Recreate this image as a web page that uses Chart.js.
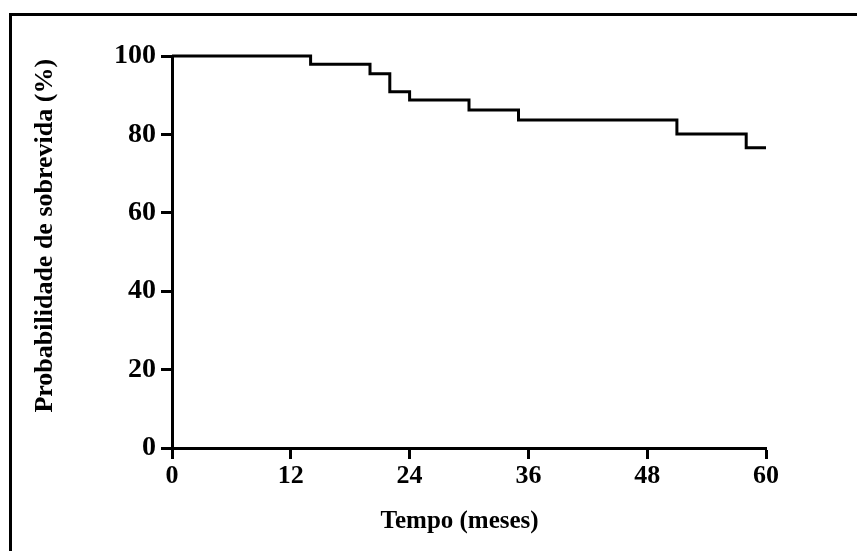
<!DOCTYPE html>
<html>
<head>
<meta charset="utf-8">
<script src="https://cdn.jsdelivr.net/npm/chart.js@4.4.1/dist/chart.umd.min.js"></script>
<style>
  html, body { margin: 0; padding: 0; background: #fff; overflow: hidden; }
  #wrap { position: relative; width: 857px; height: 551px; }
  #frame { position: absolute; left: 9px; top: 13px; width: 900px; height: 600px;
           border-top: 3px solid #000; border-left: 3px solid #000; pointer-events: none; }
</style>
</head>
<body>
<div id="wrap">
  <canvas id="km" width="857" height="551"></canvas>
  <div id="frame"></div>
</div>
<script>
// Kaplan-Meier curve
var meses = [0, 14, 20, 22, 24, 30, 35, 51, 58, 60];
var sobrevida = [100, 97.9, 95.5, 90.9, 88.8, 86.2, 83.7, 80.1, 76.6, 76.6];
var xTicks = [0, 12, 24, 36, 48, 60];
var yTicks = [0, 20, 40, 60, 80, 100];

var serif = "'Liberation Serif', 'Times New Roman', serif";

var pontos = [];
for (var i = 0; i < meses.length; i++) {
    pontos.push({x: meses[i], y: sobrevida[i]});
}

var ctx = document.getElementById('km').getContext('2d');
new Chart(ctx, {
    type: 'line',
    data: {
        datasets: [{
            data: pontos,
            stepped: 'before',
            borderColor: '#000',
            borderWidth: 3,
            pointRadius: 0,
            fill: false,
            clip: 6
        }]
    },
    options: {
        responsive: false,
        devicePixelRatio: 1,
        animation: false,
        layout: { padding: { left: 0, top: 56, right: 91, bottom: 0 } },
        plugins: { legend: { display: false }, tooltip: { enabled: false } },
        scales: {
            x: {
                type: 'linear',
                min: 0,
                max: 60,
                afterFit: function (s) { s.height = 551 - 448; },
                afterBuildTicks: function (s) { s.ticks = xTicks.map(function (v) { return {value: v}; }); },
                grid: { display: true, drawOnChartArea: false, drawTicks: true, tickLength: 11, tickWidth: 3, color: '#000' },
                border: { display: true, width: 3, color: '#000' },
                ticks: { color: '#000', padding: 2, maxRotation: 0, font: { family: serif, size: 26, weight: 'bold' } },
                // trailing spaces nudge the centred title a little to the left, as in the original
                title: { display: true, text: 'Tempo (meses)   ', color: '#000', padding: { top: 0, bottom: 14 },
                         font: { family: serif, size: 25, weight: 'bold' } }
            },
            y: {
                type: 'linear',
                min: 0,
                max: 100,
                afterFit: function (s) { s.width = 172; },
                afterBuildTicks: function (s) { s.ticks = yTicks.map(function (v) { return {value: v}; }); },
                grid: { display: true, drawOnChartArea: false, drawTicks: true, tickLength: 11, tickWidth: 3, color: '#000' },
                border: { display: true, width: 3, color: '#000' },
                ticks: { color: '#000', padding: 5, font: { family: serif, size: 28, weight: 'bold' } },
                // leading spaces lift the rotated title slightly, as in the original
                title: { display: true, text: '     Probabilidade de sobrevida (%)', color: '#000', padding: { top: 30, bottom: 0 },
                         font: { family: serif, size: 26, weight: 'bold' } }
            }
        }
    }
});
</script>
</body>
</html>
